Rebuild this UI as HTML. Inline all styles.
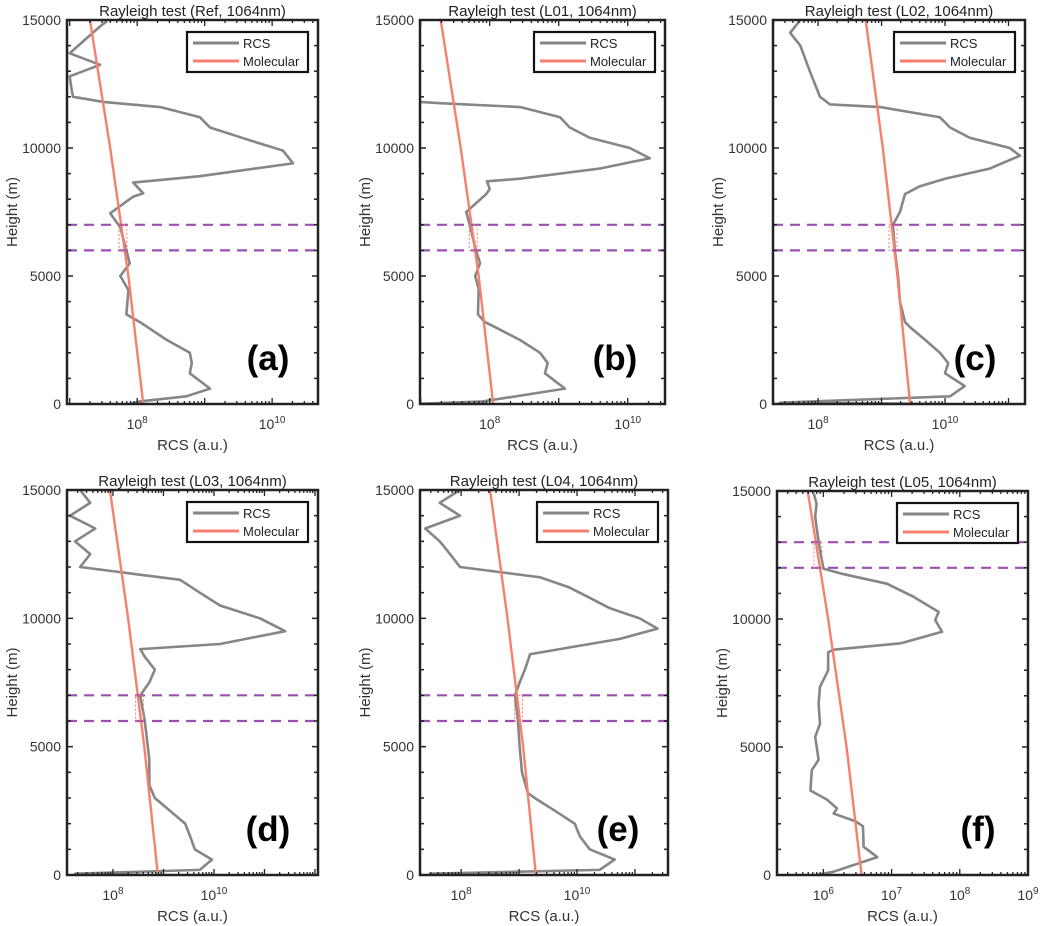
<!DOCTYPE html>
<html><head><meta charset="utf-8">
<style>
html,body{margin:0;padding:0;background:#fff;}
svg{display:block;font-family:"Liberation Sans",sans-serif;}
</style></head>
<body>
<svg id="fig" width="1040" height="926" viewBox="0 0 1040 926"></svg>
<script>
// ---- data (log10 RCS vs height in m) ----
const molHeights = [0, 5000, 10000, 15000];
const molA = [8.09, 7.87, 7.60, 7.30];
const molB = [8.05, 7.84, 7.58, 7.29];
const molC = [9.45, 9.25, 9.02, 8.75];
const molD = [8.89, 8.62, 8.30, 7.94];
const molE = [9.29, 9.07, 8.80, 8.50];
const molF = [6.56, 6.34, 6.07, 5.77];

const hA = [0,100,300,600,1200,1600,2000,2500,3200,3500,4450,5000,5500,6000,6900,7450,8100,8230,8650,8900,9400,9900,10300,10800,11200,11600,11800,12000,12250,12800,13250,13700,14750,14950];
const rA = [7.9,8.04,8.73,9.08,8.78,8.81,8.78,8.44,8.04,7.84,7.87,7.75,7.89,7.84,7.75,7.60,7.94,8.09,7.94,8.93,10.31,10.16,9.67,9.08,8.93,8.34,7.50,7.05,7.03,7.00,7.45,7.00,7.45,7.55];

const hB = [0,100,600,1200,1600,2000,2500,3000,3200,3500,4500,5000,5500,6000,7000,7500,8200,8400,8700,8800,9200,9600,10000,10400,10800,11200,11600,11750,11800,12000,15000];
const rB = [6.9,7.9,9.09,8.80,8.84,8.73,8.44,8.08,7.93,7.83,7.84,7.79,7.86,7.80,7.71,7.66,7.95,8.00,7.96,8.44,9.60,10.32,10.03,9.45,9.16,9.02,8.44,7.28,6.99,6.5,6.5];

const hC = [0,50,300,700,1200,1600,2000,2500,3000,3200,4000,5000,6000,7000,7500,8200,8500,8800,9200,9700,10000,10400,10800,11200,11600,11700,12000,13000,14000,14500,15000];
const rC = [9.9,7.4,10.08,10.31,10.00,10.05,9.92,9.69,9.45,9.37,9.29,9.26,9.21,9.18,9.29,9.37,9.60,10.00,10.71,11.18,11.02,10.39,10.08,9.92,8.98,8.19,8.03,7.87,7.72,7.56,7.72];

const hD = [0,50,200,600,1000,1500,2000,2500,3000,3500,4500,5000,6000,7000,7500,8000,8500,8800,9000,9500,10000,10500,11000,11500,11800,12000,12500,13000,13500,14000,14500,15000];
const rD = [8.6,7.25,9.72,9.96,9.62,9.53,9.43,9.13,8.83,8.72,8.72,8.69,8.63,8.54,8.72,8.83,8.63,8.54,10.12,11.41,10.91,10.12,9.72,9.33,8.14,7.35,7.55,7.25,7.65,7.15,7.55,7.35];

const hE = [0,50,200,600,1000,1500,2000,2500,3000,3200,4000,5000,6000,7000,7500,8000,8600,8800,9200,9600,10000,10400,10800,11200,11600,11800,12000,12500,13000,13500,14000,14500,15000];
const rE = [9.0,7.46,10.39,10.65,10.22,10.05,9.96,9.62,9.27,9.15,9.05,9.01,8.98,8.93,9.01,9.10,9.19,9.70,10.74,11.39,11.08,10.56,10.22,9.87,9.36,8.67,7.98,7.81,7.63,7.38,7.98,7.63,7.98];

const hF = [0,130,700,1100,1900,2100,2400,2600,2950,3300,4100,4500,5400,5900,6700,7350,7990,8700,8800,9050,9500,9960,10280,10870,11380,11780,11970,13010,13990,14500,14900];
const rF = [5.9,6.15,6.79,6.59,6.58,6.47,6.15,6.20,6.05,5.81,5.83,5.93,5.88,5.95,5.93,5.95,6.07,6.07,6.15,7.13,7.74,7.64,7.69,7.32,6.93,6.25,6.00,5.93,5.88,5.90,5.86];

const panels = [
 {id:'a',title:'Rayleigh test (Ref, 1064nm)',L:67,R:318,T:20,B:404,xmin:6.96,xmax:10.68,labels:[8,10],mol:molA,h:hA,r:rA,dash:[6000,7000]},
 {id:'b',title:'Rayleigh test (L01, 1064nm)',L:420,R:665,T:20,B:404,xmin:6.99,xmax:10.54,labels:[8,10],mol:molB,h:hB,r:rB,dash:[6000,7000]},
 {id:'c',title:'Rayleigh test (L02, 1064nm)',L:773,R:1025,T:20,B:404,xmin:7.29,xmax:11.26,labels:[8,10],mol:molC,h:hC,r:rC,dash:[6000,7000]},
 {id:'d',title:'Rayleigh test (L03, 1064nm)',L:67,R:318,T:490,B:875,xmin:7.09,xmax:12.06,labels:[8,10],mol:molD,h:hD,r:rD,dash:[6000,7000]},
 {id:'e',title:'Rayleigh test (L04, 1064nm)',L:420,R:668,T:490,B:875,xmin:7.29,xmax:11.57,labels:[8,10],mol:molE,h:hE,r:rE,dash:[6000,7000]},
 {id:'f',title:'Rayleigh test (L05, 1064nm)',L:777,R:1028,T:491,B:875,xmin:5.32,xmax:9.0,labels:[6,7,8,9],mol:molF,h:hF,r:rF,dash:[12000,13000]}
];

const NS='http://www.w3.org/2000/svg';
const svg=document.getElementById('fig');
function mk(tag,attrs,parent){const e=document.createElementNS(NS,tag);for(const k in attrs)e.setAttribute(k,attrs[k]);(parent||svg).appendChild(e);return e;}

panels.forEach(p=>{
  const g=mk('g',{});
  
  
  const xs=v=>p.L+(v-p.xmin)/(p.xmax-p.xmin)*(p.R-p.L);
  const ys=h=>p.B-h/15000*(p.B-p.T);
  const cid='clip-'+p.id;
  const cp=mk('clipPath',{id:cid},g);
  mk('rect',{x:p.L,y:p.T,width:p.R-p.L,height:p.B-p.T},cp);
  const plot=mk('g',{'clip-path':'url(#'+cid+')'},g);

  const rcs=mk('polyline',{points:p.h.map((h,i)=>xs(p.r[i])+','+ys(h)).join(' '),fill:'none',stroke:'#868686','stroke-width':2.6,'stroke-linejoin':'round'},plot);
  
  
  const mol=mk('polyline',{points:molHeights.map((h,i)=>xs(p.mol[i])+','+ys(h)).join(' '),fill:'none',stroke:'#f77f6e','stroke-width':2.4},plot);
  
  
  p.dash.forEach((d,i)=>{
    const l=mk('line',{x1:p.L,x2:p.R,y1:ys(d),y2:ys(d),stroke:'#9b4fb3','stroke-width':2.2,'stroke-dasharray':'10,7'},plot);
    
    
  });
  const interp=h=>{for(let i=0;i<molHeights.length-1;i++){if(h<=molHeights[i+1]){const t=(h-molHeights[i])/(molHeights[i+1]-molHeights[i]);return p.mol[i]+t*(p.mol[i+1]-p.mol[i]);}}return p.mol[p.mol.length-1];};
  const mx=xs(interp((p.dash[0]+p.dash[1])/2));
  const fb=mk('rect',{x:mx-4,y:ys(p.dash[1]),width:8,height:ys(p.dash[0])-ys(p.dash[1]),fill:'none',stroke:'#f77f6e','stroke-width':1,'stroke-dasharray':'2,2'},plot);
  
  

  for(let h=0;h<=15000;h+=1000){
    const len=(h%5000===0)?6:4;
    mk('line',{x1:p.L,x2:p.L+len,y1:ys(h),y2:ys(h),stroke:'#222','stroke-width':1.5},g);
    mk('line',{x1:p.R,x2:p.R-len,y1:ys(h),y2:ys(h),stroke:'#222','stroke-width':1.5},g);
    if(h%5000===0){
      const t=mk('text',{x:p.L-6,y:ys(h)+5,'text-anchor':'end','font-size':14,fill:'#333'},g);
      t.textContent=String(h);
      
      
    }
  }
  for(let d=Math.floor(p.xmin);d<=Math.ceil(p.xmax);d++){
    for(let m=1;m<=9;m++){
      const v=d+Math.log10(m);
      if(v<p.xmin||v>p.xmax)continue;
      const len=m===1?6:3;
      mk('line',{x1:xs(v),x2:xs(v),y1:p.B,y2:p.B-len,stroke:'#222','stroke-width':1.3},g);
      mk('line',{x1:xs(v),x2:xs(v),y1:p.T,y2:p.T+len,stroke:'#222','stroke-width':1.3},g);
    }
  }
  p.labels.forEach(d=>{
    const t=mk('text',{x:xs(d),y:p.B+25,'text-anchor':'middle','font-size':14,fill:'#333'},g);
    
    
    const a=mk('tspan',{},t);a.textContent='10';
    const b=mk('tspan',{dy:-6,'font-size':10},t);b.textContent=String(d);
  });
  const box=mk('rect',{x:p.L,y:p.T,width:p.R-p.L,height:p.B-p.T,fill:'none',stroke:'#222','stroke-width':2.5},g);
  
  
  const tt=mk('text',{x:(p.L+p.R)/2,y:p.T-4,'text-anchor':'middle','font-size':15,fill:'#222'},g);
  tt.textContent=p.title;
  
  
  const xl=mk('text',{x:(p.L+p.R)/2,y:p.B+46,'text-anchor':'middle','font-size':15,fill:'#333'},g);
  xl.textContent='RCS (a.u.)';
  
  
  const yl=mk('text',{x:0,y:0,'text-anchor':'middle','font-size':15,fill:'#333',transform:'translate('+(p.L-50)+','+((p.T+p.B)/2)+') rotate(-90)'},g);
  yl.textContent='Height (m)';
  
  
  const lg=mk('g',{},g);
  
  
  const lx=p.R-131, ly=p.T+12;
  mk('rect',{x:lx,y:ly,width:121,height:40,fill:'#fff',stroke:'#111','stroke-width':2.2},lg);
  mk('line',{x1:lx+6,x2:lx+52,y1:ly+11,y2:ly+11,stroke:'#868686','stroke-width':3},lg);
  mk('line',{x1:lx+6,x2:lx+52,y1:ly+29,y2:ly+29,stroke:'#f77f6e','stroke-width':3},lg);
  const e1=mk('text',{x:lx+56,y:ly+16,'font-size':13,fill:'#222'},lg);e1.textContent='RCS';
  
  
  const e2=mk('text',{x:lx+56,y:ly+34,'font-size':13,fill:'#222'},lg);e2.textContent='Molecular';
  
  
  const pl=mk('text',{x:p.R-50,y:p.B-34,'text-anchor':'middle','font-size':35,'font-weight':'bold',fill:'#000'},g);
  pl.textContent='('+p.id+')';
  
  
});
</script>
</body></html>
